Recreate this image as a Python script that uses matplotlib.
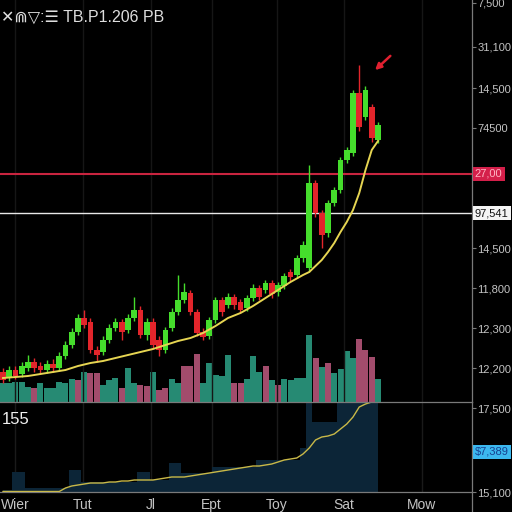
import matplotlib
matplotlib.use("Agg")
import matplotlib.pyplot as plt
import matplotlib.transforms as mtransforms
from matplotlib.lines import Line2D
import numpy as np

plt.rcParams['font.family'] = ['Liberation Sans', 'DejaVu Sans']

# ---------------- data ----------------
opens = [30, 24, 32, 28, 34, 40, 36, 32, 38, 34, 46, 57, 70, 84, 80, 52, 50, 62, 74, 80,
         72, 84, 92, 67, 80, 62, 52, 74, 90, 102, 109, 90, 70, 66, 82, 102, 97, 105, 100, 94,
         104, 114, 112, 119, 110, 116, 130, 127, 144, 134, 219, 189, 169, 199, 212, 242, 249, 309, 285, 295,
         262]
closes = [22, 32, 26, 36, 40, 34, 32, 38, 34, 46, 57, 70, 84, 77, 52, 47, 62, 74, 80, 70,
          84, 92, 67, 80, 57, 52, 72, 90, 102, 110, 90, 69, 65, 82, 102, 90, 105, 97, 92, 104,
          114, 105, 119, 108, 117, 126, 125, 144, 157, 219, 189, 167, 199, 212, 242, 252, 309, 275, 312, 264,
          277]
highs = [34, 36, 36, 40, 47, 44, 40, 42, 43, 50, 61, 74, 88, 92, 84, 56, 66, 78, 84, 83,
         88, 105, 96, 84, 84, 66, 75, 94, 127, 119, 112, 93, 74, 85, 105, 105, 109, 108, 103, 107,
         118, 117, 122, 122, 120, 129, 133, 147, 161, 237, 222, 192, 202, 215, 245, 255, 312, 337, 316, 298,
         280]
lows = [19, 21, 23, 25, 31, 30, 28, 29, 30, 31, 43, 54, 67, 74, 49, 40, 47, 59, 71, 62,
        69, 81, 64, 62, 54, 46, 49, 71, 87, 99, 87, 66, 62, 63, 79, 86, 94, 93, 89, 91,
        101, 102, 109, 104, 106, 113, 121, 124, 140, 130, 185, 154, 165, 196, 209, 239, 246, 271, 282, 260,
        259]
moving_avg = [24, 24.5, 25, 25.5, 26, 27, 28, 29, 30, 31, 32, 34, 36, 37.5, 39, 40, 41, 42.5, 44, 45.5,
              47, 48.5, 50, 51.5, 53, 55, 57, 59, 61, 62.5, 64, 66.5, 69, 72.5, 76, 80, 84, 86.5, 89, 92.5,
              96, 100, 104, 108, 112, 116, 120, 123.5, 127, 130, 136, 142, 150, 159, 170, 180, 192, 209, 232, 252,
              261]
volume = [19, 19, 20, 20, 15, 14, 19, 14, 14, 20, 19, 23, 22, 30, 29, 29, 17, 22, 24, 14,
          34, 19, 17, 16, 30, 12, 14, 23, 19, 36, 36, 48, 19, 39, 27, 26, 47, 19, 19, 23,
          46, 30, 36, 22, 17, 23, 22, 24, 24, 67, 44, 35, 39, 29, 33, 51, 44, 63, 52, 45,
          23]
volume_up = [1, 1, 1, 1, 1, 0, 1, 1, 1, 1, 1, 1, 0, 1, 0, 0, 1, 1, 1, 0,
             1, 1, 0, 0, 1, 0, 0, 1, 1, 0, 0, 0, 1, 1, 1, 1, 1, 0, 0, 1,
             1, 1, 0, 1, 0, 1, 1, 1, 1, 1, 0, 1, 0, 1, 1, 1, 1, 0, 0, 0,
             1]
lower_area = [2, 2, 20, 20, 4, 4, 4, 4, 4, 4, 4, 22, 22, 10, 10, 10, 10, 10, 10, 10,
              10, 10, 20, 20, 12, 12, 12, 29, 29, 19, 19, 19, 19, 19, 25, 25, 25, 25, 25, 25,
              25, 32, 32, 32, 32, 32, 32, 32, 44, 90, 70, 70, 70, 70, 90, 90, 90, 90, 90, 90,
              90]
lower_line = [0.5] * 10 + [4, 6, 7, 8, 9, 9, 9, 10, 10, 11, 11, 12, 12, 12, 12, 13, 14, 15, 15, 15,
                           16, 17, 18, 19, 20, 21, 22, 23, 24, 25, 26, 26, 27, 28, 30, 32, 33, 34, 38, 44,
                           52, 55, 56, 58, 63, 68, 75, 85, 88, 90, 94]

price_ticks = [399, 355, 314, 274, 154, 114, 74, 34]
price_tick_labels = ["7,500", "31,100", "14,500", "74500", "14,500", "11,800", "12,300", "12,200"]
red_level, red_label = 228, "27,00"
white_level, white_label = 189, "97,541"
lower_ticks = [84, 0]
lower_tick_labels = ["17,500", "15,100"]
blue_level, blue_label = 40, "$7,389"
x_tick_pos = [1.9, 12.8, 23.7, 33.4, 43.8, 54.6, 67.0]
x_tick_labels = ["Wier", "Tut", "Jl", "Ept", "Toy", "Sat", "Mow"]
title = "✕⋒▽:☰ TB.P1.206 PB"
lower_title = "155"

# ---------------- styling ----------------
BG = "black"
GREEN = "#45dd2c"
RED = "#e3252b"
TEAL = "#268a73"
PINK = "#a24c6c"
YELLOW = "#e6d552"
TXT = "#c4c4c4"
SPINE = "#7a7a7a"
TICK_FS = 8

x = np.arange(len(opens))

fig = plt.figure(figsize=(5.12, 5.12), dpi=100, facecolor=BG)
ax = fig.add_axes([0, 110 / 512, 472 / 512, 402 / 512])
axv = ax.twinx()
ax2 = fig.add_axes([0, 20 / 512, 472 / 512, 90 / 512])

xlim = (-0.48, 75.04)

# volume
axv.set_facecolor(BG)
vcols = [TEAL if u else PINK for u in volume_up]
axv.bar(x, volume, width=0.96, color=vcols, zorder=1)
axv.set_ylim(0, 402)
axv.set_yticks([])
for s in axv.spines.values():
    s.set_visible(False)

ax.set_zorder(axv.get_zorder() + 1)
ax.patch.set_visible(False)
fig.patch.set_facecolor(BG)

# grid
for xp in x_tick_pos:
    ax.axvline(xp, color="#161616", lw=1.0, zorder=0)
    ax2.axvline(xp, color="#1a1a1a", lw=1.0, zorder=0)

# candles
for i in x:
    o, c, h, l = opens[i], closes[i], highs[i], lows[i]
    col = GREEN if c >= o else RED
    ax.vlines(i, l, h, color=col, lw=1.0, zorder=3)
    ax.bar(i, abs(c - o) if c != o else 1, bottom=min(o, c), width=0.92, color=col, zorder=4)

ax.plot(x, moving_avg, color=YELLOW, lw=1.4, zorder=5)

# level lines
ax.axhline(red_level, color="#c8243f", lw=1.5, zorder=2)
ax.axhline(white_level, color="#e8e8e8", lw=1.0, zorder=2)

# arrow
ax.annotate("", xy=(59.2, 330), xytext=(62.3, 348),
            arrowprops=dict(arrowstyle="-|>", color="#e02030", lw=1.8, mutation_scale=9))

ax.set_xlim(*xlim)
ax.set_ylim(0, 402)
ax.set_xticks([])
ax.yaxis.tick_right()
ax.set_yticks(price_ticks)
ax.set_yticklabels(price_tick_labels)
ax.tick_params(axis="y", colors=SPINE, labelcolor=TXT, labelsize=TICK_FS, length=3, pad=1)
for k, s in ax.spines.items():
    s.set_visible(k in ("right", "bottom"))
    s.set_color(SPINE)
    s.set_linewidth(0.9)

trans = mtransforms.blended_transform_factory(ax.transAxes, ax.transData)
ax.text(1.006, red_level, red_label, transform=trans, ha="left", va="center", fontsize=TICK_FS,
        color="#ffb3c2", bbox=dict(boxstyle="square,pad=0.2", fc="#d41f4a", ec="none"), clip_on=False)
ax.text(1.006, white_level, white_label, transform=trans, ha="left", va="center", fontsize=TICK_FS,
        color="#111111", bbox=dict(boxstyle="square,pad=0.2", fc="#f4f4f4", ec="none"), clip_on=False)

# lower panel
ax2.set_facecolor(BG)
ax2.fill_between(x, 0, lower_area, step="mid", color="#0c2537", lw=0, zorder=1)
ax2.plot(x, lower_line, color="#c9b948", lw=1.0, zorder=3)
ax2.set_xlim(*xlim)
ax2.set_ylim(0, 90)
ax2.yaxis.tick_right()
ax2.set_yticks(lower_ticks)
ax2.set_yticklabels(lower_tick_labels)
ax2.set_xticks(x_tick_pos)
ax2.set_xticklabels(x_tick_labels)
ax2.tick_params(axis="y", colors=SPINE, labelcolor=TXT, labelsize=TICK_FS, length=3, pad=1)
ax2.tick_params(axis="x", colors=SPINE, labelcolor=TXT, labelsize=10, length=0, pad=4)
for k, s in ax2.spines.items():
    s.set_visible(k in ("right", "bottom"))
    s.set_color(SPINE)
    s.set_linewidth(0.9)
trans2 = mtransforms.blended_transform_factory(ax2.transAxes, ax2.transData)
ax2.text(1.006, blue_level, blue_label, transform=trans2, ha="left", va="center", fontsize=TICK_FS,
         color="#17408f", bbox=dict(boxstyle="square,pad=0.2", fc="#3cb8ef", ec="none"), clip_on=False)
ax2.text(0.004, 0.80, lower_title, transform=ax2.transAxes, color="#f0f0f0", fontsize=12,
         ha="left", va="center")

fig.add_artist(Line2D([472 / 512, 472 / 512], [0, 20 / 512], color=SPINE, lw=0.9))
fig.text(0.002, 0.967, title, color="#dedede", fontsize=11.5, ha="left", va="center")

fig.savefig("out.png", dpi=100, facecolor=BG)
